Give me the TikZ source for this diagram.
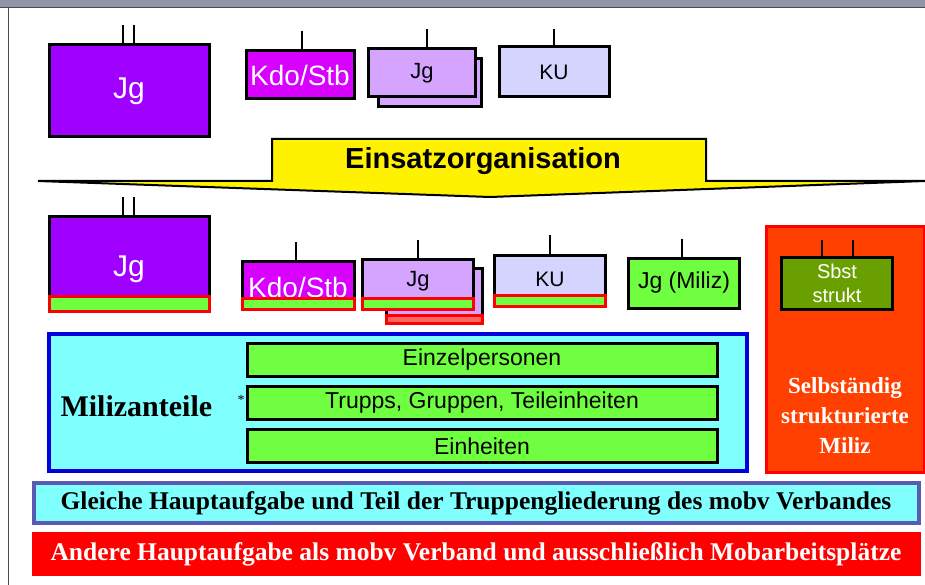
\documentclass[tikz,border=0pt]{standalone}
\usepackage{fontspec}
\setmainfont{Liberation Serif}
\setsansfont{Liberation Sans}
\usetikzlibrary{positioning}

\definecolor{BarGray}{HTML}{9494A9}
\definecolor{Violet}{HTML}{A000FF}
\definecolor{Magenta}{HTML}{D800FF}
\definecolor{LightPurple}{HTML}{D4A4FF}
\definecolor{Lavender}{HTML}{D4D4FF}
\definecolor{MilizGreen}{HTML}{70FF40}
\definecolor{Olive}{HTML}{6A9F00}
\definecolor{LightCyan}{HTML}{80FFFF}
\definecolor{FrameBlue}{HTML}{0000DD}
\definecolor{Slate}{HTML}{5A5AB4}
\definecolor{OrangeRed}{HTML}{FF4000}

\newcommand{\fsz}[2]{\fontsize{#1}{#2}\selectfont}

\begin{document}
\begin{tikzpicture}[x=1pt,y=-1pt]
	\tikzset{UnitStyle/.style = {
			draw=black, line width=3pt,
			inner sep=0pt, font=\sffamily
	}}
	\tikzset{StripStyle/.style = {
			draw=red, fill=MilizGreen, line width=3pt,
			inner sep=0pt, anchor=south
	}}
	\tikzset{TickStyle/.style = {draw=black, line width=1.5pt}}
	\tikzset{BarStyle/.style = {
			line width=4pt, inner sep=0pt,
			minimum width=885pt, minimum height=40pt
	}}
	\useasboundingbox (0,0) rectangle (925,585);
	\fill[white] (0,0) rectangle (925,585);
	% frame of the slide
	\fill[BarGray] (0,0) rectangle (925,8);
	\draw[black!70, line width=1pt] (0,8) -- (925,8);
	\draw[black!70, line width=1pt] (8,8) -- (8,585);

	% --- upper row
	\node[UnitStyle, fill=Violet, text=white, minimum width=160pt, minimum height=92pt, font=\sffamily\fsz{30}{34}] (jgA) at (129,91) {Jg};
	\node[UnitStyle, fill=Magenta, text=white, minimum width=108pt, minimum height=48pt, font=\sffamily\fsz{28}{32}] (kdoA) at (300,75) {Kdo/Stb};
	\node[UnitStyle, fill=LightPurple, minimum width=103pt, minimum height=48pt] (jgAback) at (430,83) {};
	\node[UnitStyle, fill=LightPurple, minimum width=107pt, minimum height=48pt, font=\sffamily\fsz{22}{26}] (jgAfront) at (422,73) {Jg};
	\node[UnitStyle, fill=Lavender, minimum width=110pt, minimum height=50pt, font=\sffamily\fsz{21}{24}] (kuA) at (554,72) {KU};

	\draw[TickStyle] ([xshift=-6pt]jgA.north) -- ++(0,-18);
	\draw[TickStyle] ([xshift=5pt]jgA.north) -- ++(0,-18);
	\draw[TickStyle] ([xshift=2pt]kdoA.north) -- ++(0,-18);
	\draw[TickStyle] ([xshift=5pt]jgAfront.north) -- ++(0,-18);
	\draw[TickStyle] (kuA.north) -- ++(0,-16);

	% --- Einsatzorganisation
	\draw[fill=yellow, line width=2pt, line join=miter]
		(272,139) -- (706,139) -- (706,181) -- (925,181) -- (490,197)
		-- (38,181) -- (272,181) -- cycle;
	\node[font=\sffamily\bfseries\fsz{29}{32}] (einsatz) at (483,161) {Einsatzorganisation};

	% --- lower row
	\node[UnitStyle, fill=Violet, text=white, minimum width=160pt, minimum height=95pt, font=\sffamily\fsz{30}{34}, text height=31pt] (jgB) at (129,264) {Jg};
	\node[StripStyle, minimum width=160pt, minimum height=15pt] (jgBs) at (jgB.south) {};
	\node[UnitStyle, fill=Magenta, text=white, minimum width=112pt, minimum height=48pt, font=\sffamily\fsz{28}{32}, text height=25pt, text depth=1pt] (kdoB) at (298,285) {Kdo/Stb};
	\node[StripStyle, minimum width=112pt, minimum height=11pt] (kdoBs) at (kdoB.south) {};
	\node[UnitStyle, fill=LightPurple, minimum width=96pt, minimum height=55pt] (jgBback) at (434,296) {};
	\node[StripStyle, fill=red!60, minimum width=96pt, minimum height=8pt] (jgBbacks) at (jgBback.south) {};
	\node[UnitStyle, fill=LightPurple, minimum width=111pt, minimum height=50pt, font=\sffamily\fsz{22}{26}, text depth=10pt] (jgBfront) at (418,284) {Jg};
	\node[StripStyle, minimum width=111pt, minimum height=11pt] (jgBfronts) at (jgBfront.south) {};
	\node[UnitStyle, fill=Lavender, minimum width=111pt, minimum height=51pt, font=\sffamily\fsz{21}{24}, text depth=4pt] (kuB) at (550,281) {KU};
	\node[StripStyle, minimum width=111pt, minimum height=11pt] (kuBs) at (kuB.south) {};
	\node[UnitStyle, fill=MilizGreen, minimum width=111pt, minimum height=50pt, font=\sffamily\fsz{23}{26}] (jgMiliz) at (684,283) {Jg (Miliz)};

	\draw[TickStyle] ([xshift=-6pt]jgB.north) -- ++(0,-18);
	\draw[TickStyle] ([xshift=5pt]jgB.north) -- ++(0,-18);
	\draw[TickStyle] ([xshift=-2pt]kdoB.north) -- ++(0,-18);
	\draw[TickStyle] (jgBfront.north) -- ++(0,-18);
	\draw[TickStyle] (kuB.north) -- ++(0,-19);
	\draw[TickStyle] ([xshift=-2pt]jgMiliz.north) -- ++(0,-18);

	% --- Selbstaendig strukturierte Miliz
	\node[draw=red, fill=OrangeRed, line width=3pt, minimum width=158pt, minimum height=245pt, inner sep=0pt] (selbst) at (845,349.5) {};
	\node[UnitStyle, fill=Olive, text=white, minimum width=111pt, minimum height=52pt, align=center, font=\sffamily\fsz{20}{24}] (sbst) at (837,283) {Sbst\\strukt};
	\draw[TickStyle] ([xshift=-15pt]sbst.north) -- ++(0,-16);
	\draw[TickStyle] ([xshift=16pt]sbst.north) -- ++(0,-16);
	\node[text=white, align=center, font=\bfseries\fsz{23}{30}] (selbsttext) at (845,416) {Selbständig\\strukturierte\\Miliz};

	% --- Milizanteile
	\node[draw=FrameBlue, fill=LightCyan, line width=4pt, minimum width=698pt, minimum height=137pt, inner sep=0pt] (miliz) at (398,402) {};
	\node[font=\bfseries\fsz{30}{34}, anchor=west] (miliztext) at (57,406) {Milizanteile};
	\node[font=\fsz{14}{16}] (stern) at (241,400) {*};
	\node[UnitStyle, fill=MilizGreen, minimum width=470pt, minimum height=33pt, font=\sffamily\fsz{23}{26}] (einzel) at (482,360) {Einzelpersonen};
	\node[UnitStyle, fill=MilizGreen, minimum width=470pt, minimum height=33pt, font=\sffamily\fsz{23}{26}, below=7pt of einzel] (trupps) {Trupps, Gruppen, Teileinheiten};
	\node[UnitStyle, fill=MilizGreen, minimum width=470pt, minimum height=33pt, font=\sffamily\fsz{23}{26}, below=7pt of trupps] (einheiten) {Einheiten};

	% --- bottom bars
	\node[BarStyle, draw=Slate, fill=LightCyan, font=\bfseries\fsz{25.5}{28}] (gleich) at (476,503) {Gleiche Hauptaufgabe und Teil der Truppengliederung des mobv Verbandes};
	\node[BarStyle, draw=red, fill=red, text=white, font=\bfseries\fsz{25.5}{28}] (andere) at (476,554) {Andere Hauptaufgabe als mobv Verband und ausschließlich Mobarbeitsplätze};
\end{tikzpicture}
\end{document}
